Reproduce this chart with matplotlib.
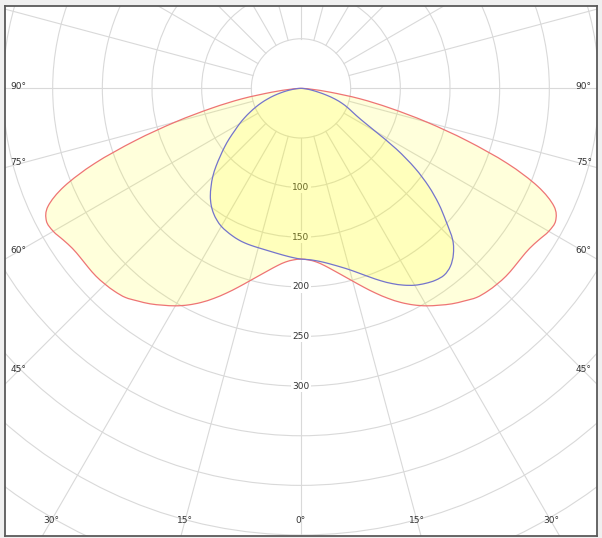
import matplotlib
matplotlib.use("Agg")
import matplotlib.pyplot as plt
from matplotlib.patches import Circle, PathPatch
from matplotlib.path import Path
import numpy as np

# gamma angles (deg from nadir), one half of the plane
ANGLES = [0, 2.5, 5, 7.5, 10, 12.5, 15, 17.5, 20, 22.5, 25, 27.5, 30, 32.5, 35, 37.5,
          40, 42.5, 45, 47.5, 50, 52.5, 55, 57.5, 60, 62.5, 65, 67.5, 70, 72.5, 75,
          77.5, 80, 82.5, 85, 87.5, 90]

# C0-C180 plane (symmetric), cd
RED_I = [172, 173, 175.5, 180, 186, 193, 201, 210, 219.5, 229, 238, 246, 253, 259, 265, 270,
         275, 277.5, 279, 280, 280, 280, 281, 284, 288, 289, 281, 258, 221, 175, 131,
         92, 60, 30, 12, 4, 0]

# C90 side and C270 side, cd
BLUE_RIGHT = [172, 172.7, 174.3, 176.8, 180.2, 184.3, 189.2, 195.3, 202.3, 209.8, 217, 223.5, 229, 233, 236, 237,
              234, 227, 216, 198, 181, 162, 140, 114, 86, 68, 58, 51, 44, 36, 27,
              18.5, 12, 7.5, 4, 1.5, 0]
BLUE_LEFT = [172, 170.8, 169.5, 168.3, 167.3, 166.6, 166.2, 166, 165.7, 165, 163.8, 162.3, 160.5, 157.5, 153.6, 148.5,
             142, 134, 125.6, 116, 106, 97, 88, 79, 71.5, 64, 56.5, 49.3, 42.3, 35, 28,
             21, 15, 9.5, 5.5, 2.5, 0]

RING_LABELS = [100, 150, 200, 250, 300]
SIDE_LABELS = [45, 60, 75, 90]
BOTTOM_LABELS = [0, 15, 30]

GRID = "#d9d9d9"
TXT = "#333333"


def curve_xy(left, right):
    ang = np.concatenate([-np.array(ANGLES[::-1]), np.array(ANGLES[1:])])
    val = np.concatenate([np.array(left[::-1]), np.array(right[1:])])
    g = np.radians(ang)
    return np.column_stack([val * np.sin(g), -val * np.cos(g)])


def smooth_path(pts):
    # catmull-rom through the measured points, drawn as cubic bezier segments
    p = np.vstack([pts[0], pts, pts[-1]])
    verts = [pts[0]]
    codes = [Path.MOVETO]
    for i in range(1, len(p) - 2):
        c1 = p[i] + (p[i + 1] - p[i - 1]) / 6
        c2 = p[i + 1] - (p[i + 2] - p[i]) / 6
        verts += [c1, c2, p[i + 1]]
        codes += [Path.CURVE4] * 3
    return Path(np.array(verts), codes)


fig = plt.figure(figsize=(6.02, 5.38), dpi=100, facecolor="#f0f0f0")
ax = fig.add_axes([5 / 602, 2.5 / 538, 592 / 602, 529.5 / 538])
ax.set_facecolor("white")
ax.set_xlim(-298, 298)
ax.set_ylim(-450.5, 83)
ax.set_xticks([])
ax.set_yticks([])
for sp in ax.spines.values():
    sp.set_color("#5a5a5a")
    sp.set_linewidth(1.3)

# polar grid
for r in range(50, 651, 50):
    ax.add_patch(Circle((0, 0), r, fill=False, ec=GRID, lw=0.8, zorder=1))
for a in range(0, 360, 15):
    t = np.radians(a)
    ax.plot([50 * np.sin(t), 800 * np.sin(t)], [-50 * np.cos(t), -800 * np.cos(t)],
            color=GRID, lw=0.8, zorder=1)

# intensity labels on the nadir axis
for r in RING_LABELS:
    ax.text(0, -r, str(r), ha="center", va="center", fontsize=6.5, color=TXT, zorder=2,
            bbox=dict(boxstyle="square,pad=0.15", fc="white", ec="none"))

# angle labels on the frame
xs = 284.7
for a in SIDE_LABELS:
    y = -xs / np.tan(np.radians(a)) if a < 90 else 0.0
    ax.text(-xs, y + 1.5, f"{a}°", ha="center", va="center", fontsize=6.5, color=TXT, zorder=2)
    ax.text(xs, y + 1.5, f"{a}°", ha="center", va="center", fontsize=6.5, color=TXT, zorder=2)
yb = -435.7
for a in BOTTOM_LABELS:
    x = -yb * np.tan(np.radians(a))
    ax.text(-x, yb, f"{a}°", ha="center", va="center", fontsize=6.5, color=TXT, zorder=2)
    if a:
        ax.text(x, yb, f"{a}°", ha="center", va="center", fontsize=6.5, color=TXT, zorder=2)

red = curve_xy(RED_I, RED_I)
blue = curve_xy(BLUE_LEFT, BLUE_RIGHT)
for pts, col in [(red, "#ee7474"), (blue, "#7474cc")]:
    path = smooth_path(pts)
    ax.add_patch(PathPatch(path, fc="#ffff00", alpha=0.14, ec="none", zorder=3))
    ax.add_patch(PathPatch(path, fc="none", ec=col, lw=0.9, zorder=4))

fig.savefig("out.png", dpi=100, facecolor=fig.get_facecolor())
